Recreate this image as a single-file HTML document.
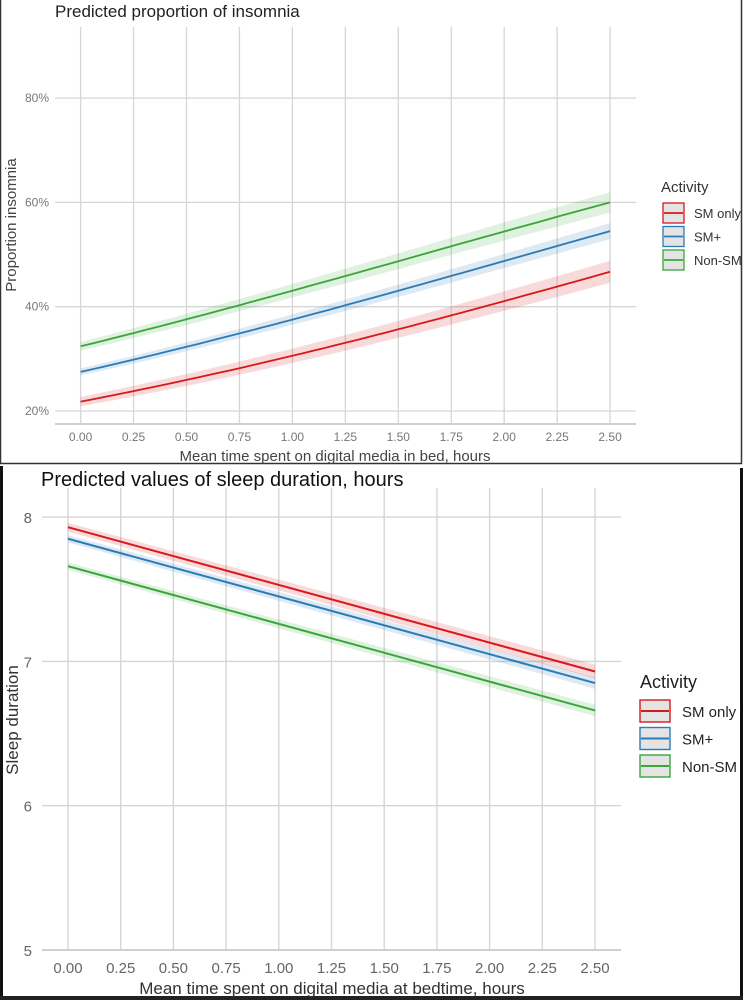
<!DOCTYPE html>
<html><head><meta charset="utf-8"><style>
html,body{margin:0;padding:0;background:#fff;}
body{width:743px;height:1000px;overflow:hidden;position:relative;font-family:"Liberation Sans",sans-serif;}
svg{position:absolute;left:0;top:0;}
</style></head><body>
<svg id="s" width="743" height="1000" xmlns="http://www.w3.org/2000/svg" font-family="Liberation Sans, sans-serif">
<rect x="0" y="0" width="743" height="1000" fill="#fff"/>
<!-- top panel border -->
<rect x="0.5" y="-1" width="741" height="464.5" fill="none" stroke="#333" stroke-width="1.5"/>
<!-- bottom panel dark frame -->
<rect x="0" y="466" width="3" height="534" fill="#111"/>
<rect x="740" y="468" width="3" height="532" fill="#111"/>
<rect x="0" y="996" width="743" height="4" fill="#222"/>
<text x="55" y="17" font-size="17" fill="#222">Predicted proportion of insomnia</text>
<text x="41" y="486" font-size="20" fill="#111">Predicted values of sleep duration, hours</text>
<g id="g"></g>
</svg>
<script>
var g=document.getElementById('g'),h='';
function L(x1,y1,x2,y2,c,w){h+='<line x1="'+x1+'" y1="'+y1+'" x2="'+x2+'" y2="'+y2+'" stroke="'+c+'" stroke-width="'+w+'"/>';}
function T(x,y,t,s,c,a,extra){h+='<text x="'+x+'" y="'+y+'" font-size="'+s+'" fill="'+c+'" text-anchor="'+(a||'start')+'" '+(extra||'')+'>'+t+'</text>';}
var cols={r:'#d7191c',b:'#2c7bb6',g:'#3aa63a'};
// TOP
var x0=80.6,dx=52.95,yp=function(p){return 411-(p-20)*5.215;};
for(var p=20;p<=80;p+=20){L(55,yp(p),636,yp(p),'#d6d6d6',1.3);T(49,yp(p)+4,p+'%',12,'#777','end');}
for(var i=0;i<=10;i++){var x=x0+i*dx;L(x,27,x,424,'#d6d6d6',1.3);T(x,441,(i*0.25).toFixed(2),12,'#777','middle');}
L(55,424,636,424,'#cfcfcf',2);
T(335,461,'Mean time spent on digital media in bed, hours',15,'#444','middle');
T(16,225,'Proportion insomnia',15,'#444','middle','transform="rotate(-90 16 225)"');
function lg(p){p/=100;return Math.log(p/(1-p));}
function il(v){return 100/(1+Math.exp(-v));}
function curve(a,b,band,c){var la=lg(a),lb=lg(b),up='',lo='',ln='';var pts=[];
 for(var k=0;k<=50;k++){var t=k/50,x=x0+t*10*dx,v=la+(lb-la)*t,p=il(v),bw=band*(0.6+0.8*t);pts.push([x,yp(p),yp(p+bw),yp(p-bw)]);}
 var d='M'+pts.map(q=>q[0].toFixed(1)+','+q[2].toFixed(1)).join('L')+'L'+pts.slice().reverse().map(q=>q[0].toFixed(1)+','+q[3].toFixed(1)).join('L')+'Z';
 h+='<path d="'+d+'" fill="'+c+'" fill-opacity="0.16"/>';
 h+='<path d="M'+pts.map(q=>q[0].toFixed(1)+','+q[1].toFixed(1)).join('L')+'" fill="none" stroke="'+c+'" stroke-width="1.8"/>';}
curve(32.4,60,1.4,cols.g);curve(27.5,54.5,1.1,cols.b);curve(21.8,46.7,1.5,cols.r);
T(661,192,'Activity',15,'#333');
[['SM only',cols.r],['SM+',cols.b],['Non-SM',cols.g]].forEach(function(e,i){var y=203+i*23.5;
 h+='<rect x="663" y="'+y+'" width="21" height="20" fill="#e4e4e4" stroke="'+e[1]+'" stroke-width="1.3"/>';L(664,y+10,683,y+10,e[1],1.8);T(694,y+15,e[0],13,'#333');});
// BOTTOM
var bx0=68,bdx=52.7,ys=function(v){return 950-(v-5)*144.3;};
for(var v=5;v<=8;v++){L(42,ys(v),621,ys(v),'#d6d6d6',1.4);T(32,ys(v)+6,v,15,'#666','end');}
for(var i=0;i<=10;i++){var x=bx0+i*bdx;L(x,488,x,950,'#d6d6d6',1.4);T(x,973,(i*0.25).toFixed(2),15,'#666','middle');}
L(42,950,621,950,'#cfcfcf',2);
T(332,994,'Mean time spent on digital media at bedtime, hours',17,'#333','middle');
T(18,720,'Sleep duration',17,'#333','middle','transform="rotate(-90 18 720)"');
function lin(a,b,band,c){var x1=bx0,x2=bx0+10*bdx;
 h+='<path d="M'+x1+','+ys(a+band)+'L'+x2+','+ys(b+band*1.6)+'L'+x2+','+ys(b-band*1.6)+'L'+x1+','+ys(a-band)+'Z" fill="'+c+'" fill-opacity="0.16"/>';
 L(x1,ys(a),x2,ys(b),c,2);}
lin(7.66,6.66,0.025,cols.g);lin(7.85,6.85,0.025,cols.b);lin(7.93,6.93,0.03,cols.r);
T(640,688,'Activity',18,'#222');
[['SM only',cols.r],['SM+',cols.b],['Non-SM',cols.g]].forEach(function(e,i){var y=700+i*27.5;
 h+='<rect x="640" y="'+y+'" width="30" height="22" fill="#e4e4e4" stroke="'+e[1]+'" stroke-width="1.4"/>';L(641,y+11,669,y+11,e[1],2);T(682,y+17,e[0],15,'#222');});
g.innerHTML=h;
</script>
</body></html>
